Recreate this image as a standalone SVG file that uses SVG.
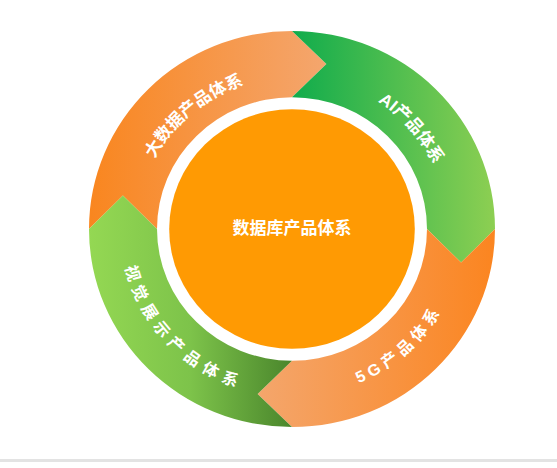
<svg xmlns="http://www.w3.org/2000/svg" width="557" height="468" viewBox="0 0 557 468">
<style>
.lbl{fill:#fff;font-family:"Liberation Sans","Noto Sans CJK SC",sans-serif;font-weight:bold;}
.arc{fill:#fff;font-family:"Liberation Sans","Noto Sans CJK SC",sans-serif;font-weight:bold;dominant-baseline:central;}
</style>
<defs>
<linearGradient id="gBig" x1="0" y1="0" x2="1" y2="0"><stop offset="0" stop-color="#F9861F"/><stop offset="1" stop-color="#F4A66E"/></linearGradient>
<linearGradient id="gAI" x1="0" y1="0" x2="1" y2="0"><stop offset="0" stop-color="#10AC4C"/><stop offset="1" stop-color="#8DCF52"/></linearGradient>
<linearGradient id="g5G" x1="0" y1="0" x2="1" y2="0"><stop offset="0" stop-color="#F4A66C"/><stop offset="1" stop-color="#FB8520"/></linearGradient>
<linearGradient id="gVis" x1="0" y1="0" x2="1" y2="0"><stop offset="0" stop-color="#94D853"/><stop offset="0.5" stop-color="#7DC34A"/><stop offset="1" stop-color="#4A862C"/></linearGradient>
<path id="tBig" d="M -149.41 54.38 A 159 159 0 0 1 79.5 -137.70"/>
<path id="tAI" d="M -56.82 -149.57 A 160 160 0 0 1 139.67 78.06"/>
<path id="t5G" d="M -76.52 143.92 A 163 163 0 0 0 151.13 -61.06"/>
<path id="tVis" d="M -143.56 -77.22 A 163 163 0 0 0 66.30 148.91"/>
</defs>
<rect width="557" height="468" fill="#fff"/>
<rect x="0" y="459" width="557" height="3" fill="#E3E3E3"/>
<g transform="translate(292,229) scale(1.015,0.99)">
<g id="connectors"></g>
<g id="node-bigdata">
<path fill="url(#gBig)" d="M -200 0 A 200 200 0 0 1 0 -200 L 33.89 -166.59 L 0 -133 A 133 133 0 0 0 -133 0 L -166.59 -33.89 Z"/>
<text class="arc" font-size="17" letter-spacing="0.6"><textPath href="#tBig" startOffset="50%" text-anchor="middle">大数据产品体系</textPath></text>
</g>
<g id="node-ai">
<path fill="url(#gAI)" d="M 0 -200 A 200 200 0 0 1 200 0 L 166.59 33.89 L 133 0 A 133 133 0 0 0 0 -133 L 33.89 -166.59 Z"/>
<text class="arc" font-size="17" letter-spacing="0.6"><textPath href="#tAI" startOffset="50%" text-anchor="middle">AI产品体系</textPath></text>
</g>
<g id="node-5g">
<path fill="url(#g5G)" d="M 200 0 A 200 200 0 0 1 0 200 L -33.89 166.59 L 0 133 A 133 133 0 0 0 133 0 L 166.59 33.89 Z"/>
<text class="arc" font-size="16" letter-spacing="4"><textPath href="#t5G" startOffset="50%" text-anchor="middle">5G产品体系</textPath></text>
</g>
<g id="node-visual">
<path fill="url(#gVis)" d="M 0 200 A 200 200 0 0 1 -200 0 L -166.59 -33.89 L -133 0 A 133 133 0 0 0 0 133 L -33.89 166.59 Z"/>
<text class="arc" font-size="16" letter-spacing="5.2"><textPath href="#tVis" startOffset="50%" text-anchor="middle">视觉展示产品体系</textPath></text>
</g>
<g id="node-database">
<circle r="121" fill="#FF9A03"/>
</g>
</g>
<text class="lbl" x="292" y="234" font-size="17" text-anchor="middle">数据库产品体系</text>
</svg>
